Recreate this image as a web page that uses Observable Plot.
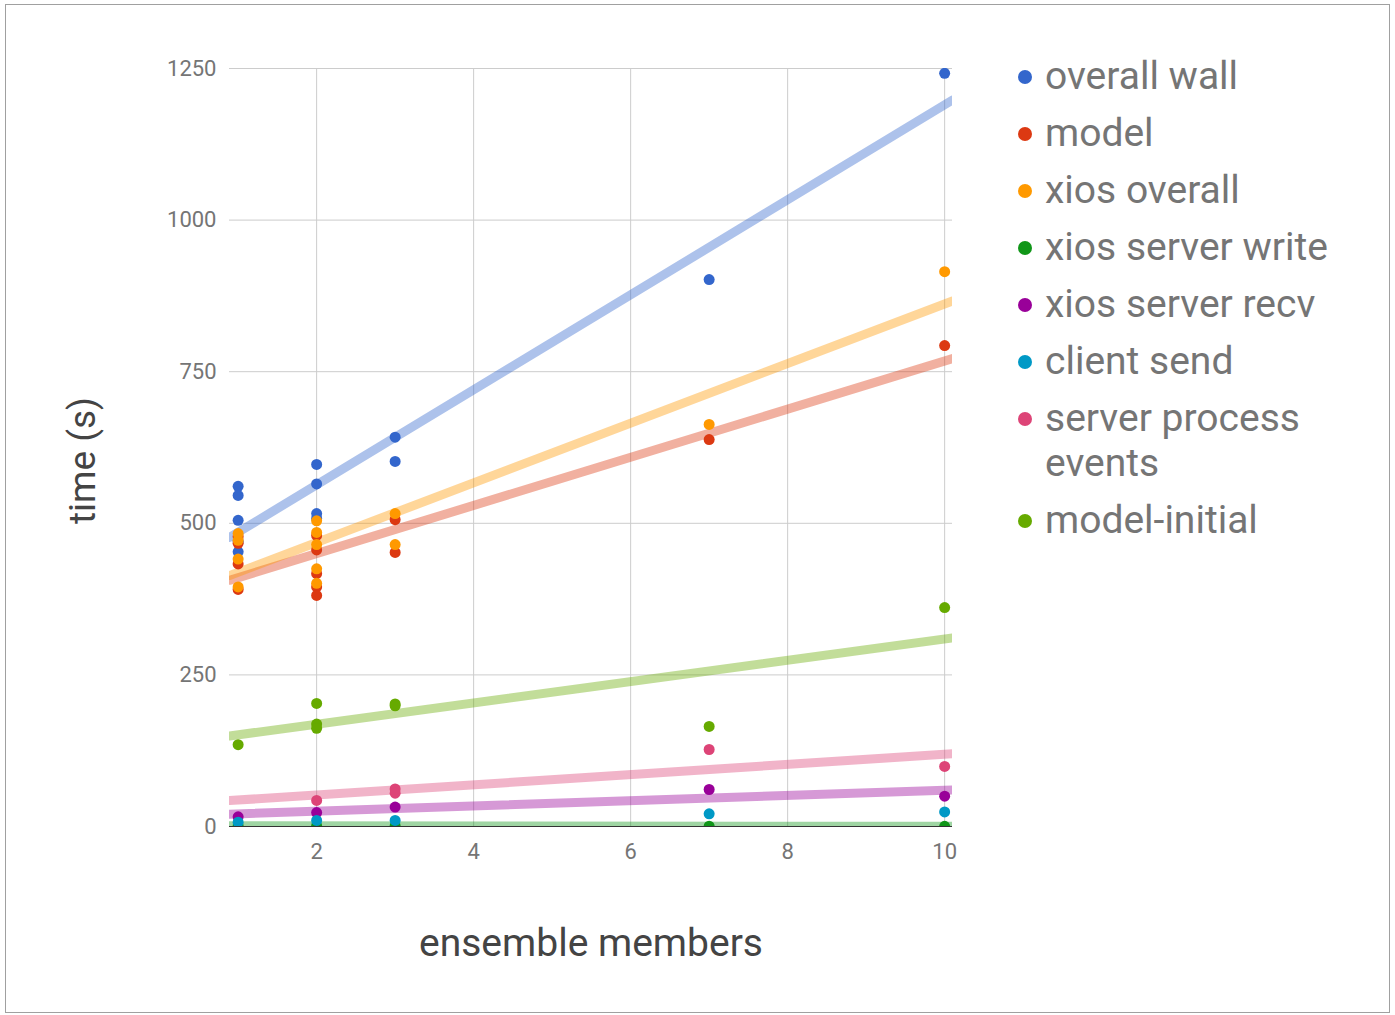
<!DOCTYPE html>
<html>
<head>
<meta charset="utf-8">
<script src="https://cdn.jsdelivr.net/npm/d3@7"></script>
<script src="https://cdn.jsdelivr.net/npm/@observablehq/plot@0.6"></script>
<style>
  body { margin: 0; background: #fff; font-family: Roboto, "Noto Sans", sans-serif; }
  #wrap { position: relative; width: 1395px; height: 1015px; overflow: hidden; }
  #chart { position: absolute; left: 0; top: 0; }
  #frame { position: absolute; left: 5px; top: 4px; width: 1383px; height: 1007px; border: 1px solid #a0a0a0; pointer-events: none; }
  #legend { position: absolute; left: 1018px; top: 54px; }
  .item { display: flex; align-items: flex-start; margin-bottom: 12px; }
  .swatch { width: 14px; height: 14px; border-radius: 50%; margin-top: 16px; margin-right: 13px; flex: none; }
  .name { font-size: 39px; line-height: 45px; color: #757575; max-width: 330px; }
</style>
</head>
<body>
<div id="wrap">
  <div id="chart"></div>
  <div id="legend"></div>
  <div id="frame"></div>
</div>
<script>
// Timings (s) per number of ensemble members, one [members, seconds] pair per run
const overallWall = [[1, 561], [1, 546], [1, 505], [1, 470], [1, 453], [2, 597], [2, 565], [2, 516], [2, 508], [3, 642], [3, 602], [7, 902], [10, 1242]];
const model = [[1, 478], [1, 467], [1, 433], [1, 391], [2, 480], [2, 456], [2, 417], [2, 395], [2, 381], [3, 506], [3, 452], [7, 638], [10, 793]];
const xiosOverall = [[1, 483], [1, 472], [1, 441], [1, 395], [2, 504], [2, 485], [2, 465], [2, 425], [2, 401], [3, 516], [3, 465], [7, 663], [10, 915]];
const xiosServerWrite = [[1, 1], [2, 1], [3, 1], [7, 0.5], [10, 0.3]];
const xiosServerRecv = [[1, 16], [2, 23], [3, 32], [7, 61], [10, 50]];
const clientSend = [[1, 7], [2, 10], [3, 10], [7, 21], [10, 24]];
const serverProcessEvents = [[2, 43], [3, 62], [3, 55], [7, 127], [10, 99]];
const modelInitial = [[1, 135], [2, 203], [2, 169], [2, 162], [3, 202], [3, 199], [7, 165], [10, 361]];

const seriesNames = ["overall wall", "model", "xios overall", "xios server write", "xios server recv", "client send", "server process events", "model-initial"];
const seriesValues = [overallWall, model, xiosOverall, xiosServerWrite, xiosServerRecv, clientSend, serverProcessEvents, modelInitial];
const seriesColors = ["#3366cc", "#dc3912", "#ff9900", "#109618", "#990099", "#0099c6", "#dd4477", "#66aa00"];
const hasTrend = [true, true, true, true, true, false, true, true];

const xDomain = [0.89, 10.1];
const yDomain = [0, 1250];
const xTicks = [2, 4, 6, 8, 10];
const yTicks = [0, 250, 500, 750, 1000, 1250];

// Long-format rows for the dots
const points = seriesNames.flatMap((name, i) =>
  seriesValues[i].map(([x, y]) => ({series: name, x, y}))
);

// Least-squares line per series, evaluated across the full x extent
function leastSquares(values) {
  const mx = d3.mean(values, d => d[0]);
  const my = d3.mean(values, d => d[1]);
  const sxy = d3.sum(values, d => (d[0] - mx) * (d[1] - my));
  const sxx = d3.sum(values, d => (d[0] - mx) ** 2);
  const slope = sxy / sxx;
  return {slope, intercept: my - slope * mx};
}
const trendRows = seriesNames.flatMap((name, i) => {
  if (!hasTrend[i]) return [];
  const {slope, intercept} = leastSquares(seriesValues[i]);
  return xDomain.map(x => ({series: name, x, y: intercept + slope * x}));
});

const chart = Plot.plot({
  width: 1395,
  height: 1015,
  marginLeft: 229,
  marginRight: 443,
  marginTop: 68,
  marginBottom: 189,
  style: {fontFamily: "Roboto, 'Noto Sans', sans-serif", fontSize: "22px", color: "#757575", background: "transparent"},
  x: {domain: xDomain},
  y: {domain: yDomain},
  color: {domain: seriesNames, range: seriesColors},
  marks: [
    Plot.gridY(yTicks, {stroke: "#cccccc", strokeOpacity: 1}),
    Plot.gridX(xTicks, {stroke: "#cccccc", strokeOpacity: 1}),
    Plot.ruleY([0], {stroke: "#333333", strokeWidth: 1}),
    Plot.line(trendRows, {x: "x", y: "y", z: "series", stroke: "series", strokeWidth: 9, strokeOpacity: 0.4, clip: true}),
    Plot.dot(points, {x: "x", y: "y", fill: "series", r: 5.5, clip: true}),
    Plot.axisX(xTicks, {tickSize: 0, tickPadding: 17, label: null, tickFormat: d => String(d), fontSize: 22}),
    Plot.axisY(yTicks, {tickSize: 0, tickPadding: 13, label: null, tickFormat: d => String(d), fontSize: 22}),
    Plot.text(["ensemble members"], {frameAnchor: "bottom", textAnchor: "middle", lineAnchor: "middle", dy: 117, fontSize: 39, fill: "#444444"}),
    Plot.text(["time (s)"], {frameAnchor: "left", textAnchor: "middle", lineAnchor: "middle", dx: -146, dy: 13, rotate: -90, fontSize: 37, fill: "#444444"})
  ]
});
document.getElementById("chart").append(chart);

// Legend to the right of the plot
const legend = d3.select("#legend");
seriesNames.forEach((name, i) => {
  const item = legend.append("div").attr("class", "item");
  item.append("div").attr("class", "swatch").style("background", seriesColors[i]);
  item.append("div").attr("class", "name").text(name);
});
</script>
</body>
</html>
